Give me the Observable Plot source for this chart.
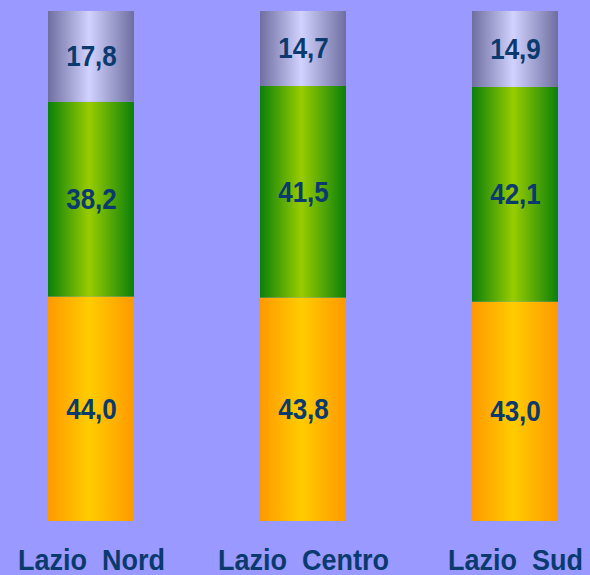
<!DOCTYPE html>
<html>
<head>
<meta charset="utf-8">
<script src="https://cdn.jsdelivr.net/npm/d3@7"></script>
<script src="https://cdn.jsdelivr.net/npm/@observablehq/plot@0.6"></script>
<style>
  html, body { margin: 0; padding: 0; background: #9999ff; }
  #chart svg { display: block; }
</style>
</head>
<body>
<div id="chart"></div>
<script>
// ---- data ----
const regions = ["Lazio Nord", "Lazio Centro", "Lazio Sud"];
const series = ["basso", "medio", "alto"];          // bottom → top
const valuesBasso = [44.0, 43.8, 43.0];             // orange
const valuesMedio = [38.2, 41.5, 42.1];             // green
const valuesAlto  = [17.8, 14.7, 14.9];             // lavender

const seriesValues = [valuesBasso, valuesMedio, valuesAlto];
const table = [];
series.forEach((s, si) => regions.forEach((r, ri) => table.push({region: r, series: s, value: seriesValues[si][ri]})));

// gradient definitions (edge, center, edge)
const gradients = [
  {id: "gOrange", edge: "#ff9900", mid: "#ffcc00"},
  {id: "gGreen",  edge: "#0a800a", mid: "#99cc00"},
  {id: "gGrey",   edge: "#6e6ea0", mid: "#d2d2ff"}
];

const defsMark = () => {
  const defs = d3.create("svg:defs");
  for (const g of gradients) {
    const lg = defs.append("linearGradient").attr("id", g.id).attr("x1", "0").attr("x2", "1").attr("y1", "0").attr("y2", "0");
    lg.append("stop").attr("offset", "0").attr("stop-color", g.edge);
    lg.append("stop").attr("offset", "0.48").attr("stop-color", g.mid);
    lg.append("stop").attr("offset", "1").attr("stop-color", g.edge);
  }
  return defs.node();
};

const textColor = "#0a3a6e";
const fmt = v => v.toFixed(1).replace(".", ",");

const chart = Plot.plot({
  width: 590,
  height: 575,
  marginTop: 11,
  marginBottom: 54,
  marginLeft: 48,
  marginRight: 31,
  style: {background: "#9999ff", fontFamily: "Liberation Sans, Arial, sans-serif"},
  x: {domain: regions, paddingInner: 0.593, paddingOuter: 0, label: null},
  y: {domain: [0, 100], axis: null},
  color: {domain: series, range: gradients.map(g => `url(#${g.id})`)},
  marks: [
    defsMark,
    Plot.barY(table, {x: "region", y: "value", fill: "series"}),
    Plot.text(table, Plot.stackY({
      x: "region", y: "value", text: d => fmt(d.value),
      fill: textColor, fontSize: 26, fontWeight: "bold", className: "vals"
    })),
    Plot.axisX({
      tickSize: 0, tickPadding: 28, fontSize: 27, fontWeight: "bold",
      fill: textColor, tickFormat: d => d.replace(" ", "\u00a0\u00a0"), label: null,
      className: "labs"
    })
  ]
});

document.getElementById("chart").appendChild(chart);

// slight vertical stretch of the glyphs, as in the reference
const stretch = (sel, k) => {
  d3.select(chart).selectAll(sel).each(function () {
    const t = this.getAttribute("transform");
    if (t) {
      this.setAttribute("transform", t + ` scale(1,${k})`);
    } else {
      const x = this.getAttribute("x") || 0, y = this.getAttribute("y") || 0;
      this.removeAttribute("x"); this.removeAttribute("y");
      this.setAttribute("transform", `translate(${x},${y}) scale(1,${k})`);
    }
  });
};
stretch(".vals text", 1.12);
stretch(".labs text", 1.06);
</script>
</body>
</html>
